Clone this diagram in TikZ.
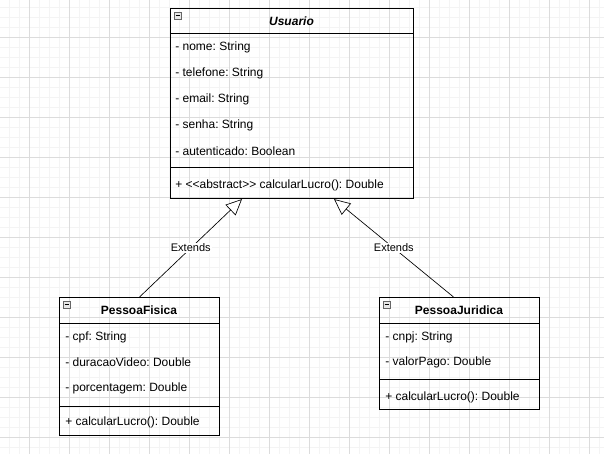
\documentclass[tikz,border=0pt]{standalone}
\usepackage{fontspec}
\setmainfont[Ligatures=TeXOff]{Liberation Sans}
\usetikzlibrary{arrows.meta,positioning}
\frenchspacing
\definecolor{gridmajor}{HTML}{DCDCDC}
\definecolor{gridminor}{HTML}{F4F4F4}
\definecolor{iconfill}{HTML}{E8E8E8}
\newcommand{\collapseicon}[1]{
  \draw[gray!80!black, fill=iconfill, line width=0.4pt]
    ([shift={(4,4)}]#1.north west) rectangle ++(7,7);
  \draw[black, line width=0.5pt]
    ([shift={(5.5,7.5)}]#1.north west) -- ++(4,0);
}
\tikzset{x=0.75pt, y=-0.75pt}
\tikzset{
  classbox/.style  = {draw, line width=0.8pt, inner sep=0pt, anchor=north west},
  member/.style    = {anchor=west, inner sep=0pt, font=\fontsize{9}{11}\selectfont},
  classname/.style = {inner sep=0pt, font=\fontsize{9}{11}\selectfont\bfseries},
  extends/.style   = {-{Triangle[open, fill=white, length=12pt, width=11pt]},
                      line width=0.5pt},
  extlabel/.style  = {fill=white, inner sep=1pt, font=\fontsize{8.25}{10}\selectfont}
}

\begin{document}
\begin{tikzpicture}
  \useasboundingbox (0,0) rectangle (604,454);
  \fill[white] (0,0) rectangle (604,454);
  % grid
  \foreach \x in {9,19,...,599} \draw[gridminor, line width=0.5pt] (\x,0) -- (\x,454);
  \foreach \y in {7,17,...,447} \draw[gridminor, line width=0.5pt] (0,\y) -- (604,\y);
  \foreach \x in {29,69,...,589} \draw[gridmajor, line width=0.6pt] (\x,0) -- (\x,454);
  \foreach \y in {37,77,...,437} \draw[gridmajor, line width=0.6pt] (0,\y) -- (604,\y);

  % Usuario
  \node[classbox, minimum width=182.25pt, minimum height=142.5pt] (usuario) at (170,8) {};
  \draw[line width=0.7pt] ([yshift=-18.75pt]usuario.north west) -- ++(243,0);
  \draw[line width=0.7pt] ([yshift=-119.25pt]usuario.north west) -- ++(243,0);
  \collapseicon{usuario}
  \node[classname, font=\fontsize{9}{11}\selectfont\bfseries\itshape] (usuarioT) at (291.5,21) {Usuario};
  \node[member] (uNome) at (175,47) {- nome: String};
  \node[member] (uTel) at (175,73) {- telefone: String};
  \node[member] (uEmail) at (175,99) {- email: String};
  \node[member] (uSenha) at (175,125) {- senha: String};
  \node[member] (uAut) at (175,151) {- autenticado: Boolean};
  \node[member] (uCalc) at (175,185) {+ <<abstract>> calcularLucro(): Double};

  % PessoaFisica
  \node[classbox, minimum width=120pt, minimum height=103.5pt] (pf) at (59,297) {};
  \draw[line width=0.7pt] ([yshift=-19.5pt]pf.north west) -- ++(160,0);
  \draw[line width=0.7pt] ([yshift=-81.75pt]pf.north west) -- ++(160,0);
  \collapseicon{pf}
  \node[classname] (pfT) at (139,310) {PessoaFisica};
  \node[member] (pfCpf) at (65,337) {- cpf: String};
  \node[member] (pfDur) at (65,362) {- duracaoVideo: Double};
  \node[member] (pfPorc) at (65,388) {- porcentagem: Double};
  \node[member] (pfCalc) at (65,422) {+ calcularLucro(): Double};

  % PessoaJuridica
  \node[classbox, minimum width=120pt, minimum height=84pt] (pj) at (379,297) {};
  \draw[line width=0.7pt] ([yshift=-19.5pt]pj.north west) -- ++(160,0);
  \draw[line width=0.7pt] ([yshift=-61.5pt]pj.north west) -- ++(160,0);
  \collapseicon{pj}
  \node[classname] (pjT) at (459,310) {PessoaJuridica};
  \node[member] (pjCnpj) at (385,337) {- cnpj: String};
  \node[member] (pjValor) at (385,362) {- valorPago: Double};
  \node[member] (pjCalc) at (385,397) {+ calcularLucro(): Double};

  % heranca
  \draw[extends] (pf.north) -- node[extlabel] {Extends} ([xshift=-37.5pt]usuario.south);
  \draw[extends] ([xshift=-4.5pt]pj.north) -- node[extlabel] {Extends} ([xshift=31.5pt]usuario.south);
\end{tikzpicture}
\end{document}
